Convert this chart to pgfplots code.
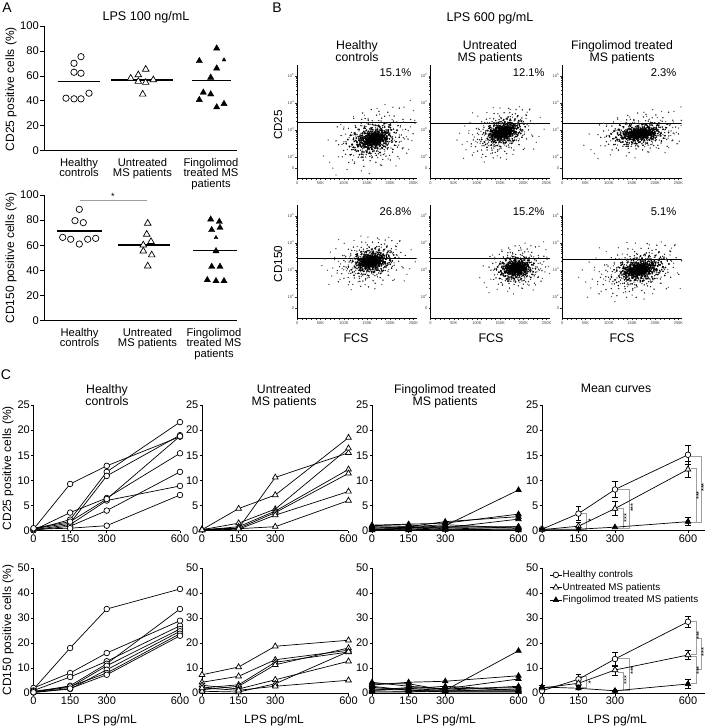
\documentclass[border=0pt]{standalone}
\usepackage{pgfplots}
\pgfplotsset{compat=1.18}
\usepackage{pgfplotstable}
\usepackage{fontspec}
\setmainfont{Liberation Sans}

\pgfplotsset{
  every axis/.append style={/pgf/number format/assume math mode=true},
  base/.style={scale only axis, anchor=south west, axis lines=left,
    axis line style={-, line width=0.8pt}, tick style={black, line width=0.7pt},
    tick align=outside},
  aax/.style={base, width=193pt, xmin=44, xmax=237, ymin=0, ymax=100,
    ytick={0,20,...,100}, xtick=\empty, major tick length=4pt, clip=false,
    yticklabel style={font=\fontsize{11.2}{11}\selectfont, inner sep=1pt}},
  cax/.style={base, xmin=0, xmax=600, width=146.5pt, xtick={0,150,300,600},
    major tick length=2.5pt, clip=false,
    ticklabel style={font=\fontsize{11}{11}\selectfont},
    yticklabel style={inner sep=1pt}, xticklabel style={inner sep=1.5pt}},
  rowA/.style={ymin=0, ymax=25, ytick={0,5,...,25}, height=125.7pt},
  rowB/.style={ymin=0, ymax=50, ytick={0,10,...,50}, height=125pt},
  meanax/.style={xmax=670, width=163pt},
  hc/.style={black, line width=0.7pt, mark=*, mark size=2.8pt, mark options={fill=white, solid}},
  um/.style={black, line width=0.7pt, mark=triangle*, mark size=3.3pt, mark options={fill=white, solid}},
  fm/.style={black, line width=0.7pt, mark=triangle*, mark size=3.1pt, mark options={fill=black, solid}},
  ahc/.style={only marks, mark=*, mark size=3.2pt, mark options={fill=white, draw=black, line width=0.7pt}},
  aum/.style={only marks, mark=triangle*, mark size=3.8pt, mark options={fill=white, draw=black, line width=0.7pt}},
  afm/.style={only marks, mark=triangle*, mark size=3.6pt, mark options={fill=black, draw=black}},
  meanline/.style={black, line width=1.3pt},
  brk/.style={gray!75, line width=0.6pt, forget plot},
  ebar/.style={forget plot, only marks, mark=none, black, error bars/.cd, y dir=both, y explicit,
    error bar style={line width=0.7pt, black}, error mark options={rotate=90, mark size=2.6pt, line width=0.7pt, black}},
  flow/.style={base, xmin=0, xmax=257, ymin=1.2, ymax=5.4, width=119.4pt, height=113.3pt,
    axis line style={-, line width=0.6pt}, tick style={line width=0.4pt, black!80},
    xtick={0,50,...,250}, xticklabels={0,50K,100K,150K,200K,250K}, minor x tick num=4,
    ytick={1.57,2,3,4,5}, yticklabels={0,10\textsuperscript{2},10\textsuperscript{3},10\textsuperscript{4},10\textsuperscript{5}},
    minor ytick={2.301,2.477,2.602,2.699,2.778,2.845,2.903,2.954,3.301,3.477,3.602,3.699,3.778,3.845,3.903,3.954,4.301,4.477,4.602,4.699,4.778,4.845,4.903,4.954},
    major tick length=2pt, minor tick length=1.2pt,
    ticklabel style={font=\fontsize{4}{4}\selectfont, text=black!75, inner sep=1pt}},
  gate/.style={black, line width=0.7pt},
  doth/.style={only marks, mark=*, mark size=0.4pt, black!65, mark options={draw=none}},
  dot/.style={only marks, mark=*, mark size=0.45pt, black!85, mark options={draw=none}},
  dotc/.style={only marks, mark=*, mark size=0.6pt, black, mark options={draw=none}},
}

\pgfplotstableread[row sep=\\]{
dx dy\\
0.12 -0.35\\ -0.84 0.51\\ 1.32 0.22\\ -0.27 -1.08\\ 0.66 0.93\\ -1.45 -0.21\\ 0.05 0.14\\ 0.93 -0.62\\ -0.58 -0.49\\ 1.87 1.04\\
-0.11 0.72\\ 0.41 -0.18\\ -1.02 1.23\\ 0.28 0.39\\ -0.36 0.05\\ 1.08 -1.15\\ -0.73 -0.88\\ 0.57 0.61\\ -1.9 0.33\\ 0.19 -0.71\\
2.31 0.45\\ -0.44 1.62\\ 0.76 -0.03\\ -0.06 -0.27\\ 1.49 0.81\\ -1.21 -0.66\\ 0.33 1.12\\ -0.65 0.24\\ 0.89 0.36\\ -0.17 -1.47\\
0.48 -0.93\\ -1.33 0.79\\ 1.15 1.46\\ -0.52 -0.12\\ 0.02 0.56\\ 2.05 -0.38\\ -0.91 0.02\\ 0.69 -1.31\\ -0.23 0.94\\ 1.61 -0.09\\
-2.24 -0.95\\ 0.37 0.18\\ -0.79 -1.41\\ 1.24 0.58\\ 0.08 -0.54\\ -0.39 0.43\\ 0.97 1.89\\ -1.57 0.61\\ 0.61 -0.37\\ -0.03 1.31\\
1.72 -0.71\\ -0.69 -0.31\\ 0.24 -1.78\\ -1.11 0.37\\ 0.52 0.27\\ -0.31 -0.83\\ 1.39 0.12\\ 0.15 0.87\\ -0.95 1.05\\ 2.58 0.97\\
-0.47 0.31\\ 0.83 0.49\\ -1.68 -0.45\\ 0.44 -0.08\\ -0.14 -0.61\\ 1.03 0.74\\ -0.61 0.68\\ 0.29 -1.21\\ 1.94 -0.56\\ -1.29 -1.12\\
0.71 1.27\\ -0.22 0.22\\ 1.57 -1.02\\ -0.88 -0.14\\ 0.11 0.45\\ -2.02 0.12\\ 0.55 -0.76\\ 1.19 -0.29\\ -0.41 -0.95\\ 0.36 2.21\\
-1.06 -0.29\\ 2.17 0.14\\ -0.19 0.59\\ 0.64 0.08\\ -0.76 1.48\\ 1.44 1.18\\ 0.01 -1.02\\ -1.49 0.89\\ 0.86 -0.14\\ -0.33 -0.18\\
1.28 -0.48\\ -0.56 0.85\\ 0.18 0.29\\ -1.24 -1.73\\ 0.95 0.21\\ -0.08 -0.41\\ 1.66 0.63\\ -0.97 0.47\\ 0.42 -0.56\\ 2.72 -0.21\\
-0.29 0.11\\ 0.74 -0.99\\ -1.81 1.01\\ 0.31 0.66\\ 1.11 -0.15\\ -0.66 -1.25\\ 0.09 1.03\\ 0.58 0.41\\ -1.38 -0.02\\ 1.83 0.31\\
-0.13 -0.84\\ 0.99 1.02\\ -0.49 -0.03\\ 2.41 -0.84\\ 0.21 -0.33\\ -0.86 0.29\\ 1.35 -0.67\\ -0.02 0.37\\ 0.67 -1.55\\ -1.14 0.63\\
2.9 1.6\\ -2.6 -1.9\\ 3.1 -0.4\\ -2.1 2.0\\ 1.2 2.6\\ 0.4 -2.5\\ -1.7 -2.3\\ 2.5 1.9\\ -2.9 0.8\\ 0.9 -2.1\\
3.3 0.9\\ -0.6 2.4\\ 2.2 -1.6\\ -3.2 -0.6\\ 1.6 -2.3\\ 0.2 2.8\\ -1.3 2.5\\ 2.8 -1.1\\ -2.4 -2.6\\ 3.5 0.2\\
1.9 2.4\\ -0.8 -2.7\\ 2.6 0.7\\ -1.9 1.7\\ 0.7 3.0\\ 3.0 -2.0\\ -2.8 -1.3\\ 1.4 -2.9\\ -0.3 -3.1\\ 2.3 2.9\\
0.2 0.1\\ -0.3 0.3\\ 0.5 -0.2\\ -0.1 -0.4\\ 0.35 0.5\\ -0.55 -0.1\\ 0.1 -0.15\\ 0.7 0.15\\ -0.4 0.6\\ 0.25 -0.6\\
-0.2 -0.05\\ 0.45 0.3\\ -0.7 0.2\\ 0.05 0.25\\ 0.6 -0.45\\ -0.15 0.45\\ 0.3 0.05\\ -0.5 -0.35\\ 0.8 0.4\\ 0.0 -0.3\\
0.15 0.65\\ -0.35 -0.2\\ 0.55 0.05\\ -0.05 0.15\\ 0.4 -0.35\\ -0.6 0.4\\ 0.1 0.4\\ 0.65 -0.1\\ -0.25 -0.55\\ 0.3 0.3\\
-0.45 0.05\\ 0.2 -0.25\\ -0.1 0.55\\ 0.75 -0.25\\ -0.3 -0.4\\ 0.5 0.55\\ -0.65 -0.05\\ 0.0 0.0\\ 0.35 -0.1\\ -0.15 0.25\\
}\cloudtab

% #1 cx, #2 cy, #3 sx, #4 sy, #5 tilt, #6 flip
\newcommand{\cloudplot}[6]{%
 \addplot[doth] table[x expr={#1+#6*#3*\thisrow{dx}}, y expr={#2+#4*\thisrow{dy}+#5*#6*\thisrow{dx}}]{\cloudtab};
 \addplot[dot] table[x expr={#1-0.8*#3*\thisrow{dy}}, y expr={#2+0.8*#6*#4*\thisrow{dx}-0.8*#5*\thisrow{dy}}]{\cloudtab};
 \addplot[dot] table[x expr={#1+0.62*#3*\thisrow{dy}}, y expr={#2-0.62*#6*#4*\thisrow{dx}+0.62*#5*\thisrow{dy}}]{\cloudtab};
 \addplot[dotc] table[x expr={#1-0.5*#6*#3*\thisrow{dx}}, y expr={#2+0.5*#4*\thisrow{dy}-0.5*#5*#6*\thisrow{dx}}]{\cloudtab};
 \addplot[dotc] table[x expr={#1-0.4*#6*#3*\thisrow{dx}}, y expr={#2-0.4*#4*\thisrow{dy}-0.4*#5*#6*\thisrow{dx}}]{\cloudtab};
 \addplot[dotc] table[x expr={#1+0.3*#6*#3*\thisrow{dx}}, y expr={#2-0.3*#4*\thisrow{dy}+0.3*#5*#6*\thisrow{dx}}]{\cloudtab};
}

\begin{document}
\begin{tikzpicture}
\path[use as bounding box] (0,0) rectangle (707pt,-728pt);

% ================= Panel A top =================
\begin{axis}[aax, at={(44pt,-150.7pt)}, height=124.7pt]
\addplot[ahc] coordinates {(74,70.1)(81,75.4)(74,62.9)(81,62.1)(66,42.1)(74,41.6)(81,41.6)(89,46.1)};
\addplot[aum] coordinates {(130.7,58.1)(138.3,60.8)(145.7,65.3)(153.3,56.8)(138.3,55.5)(145.7,54.7)(142.7,45.3)};
\addplot[afm] coordinates {(216.7,82.1)(199.3,72)(216.7,66.1)(210.7,58.7)(203.3,46.7)(210.7,45.3)(199.3,40.8)(224,37.6)(216.7,34.9)};
\addplot[afm, mark size=2.2pt] coordinates {(224,72.8)};
\addplot[meanline] coordinates {(58,55.3)(100,55.3)};
\addplot[meanline] coordinates {(111,56.8)(173,56.8)};
\addplot[meanline] coordinates {(192,56.3)(231,56.3)};
\end{axis}

% ================= Panel A bottom =================
\begin{axis}[aax, at={(44pt,-320.7pt)}, height=125.7pt]
\addplot[ahc] coordinates {(79.3,88.6)(75,79.6)(83.3,78)(62.7,66.3)(70.7,64.8)(79.3,61)(87.7,64.8)(95.7,65.5)};
\addplot[aum] coordinates {(147.7,77.5)(146.7,68.7)(151,62.9)(143.3,60.2)(143.3,55.4)(151.7,52.3)(147.7,43.5)};
\addplot[afm] coordinates {(210.7,80.6)(219.3,78.8)(211.7,72.2)(220,74)(216,55.4)(211.7,43)(220,43)(207.3,32.4)(216,31.6)(224,31.6)};
\addplot[afm, mark size=2.2pt] coordinates {(216,66.1)};
\addplot[meanline] coordinates {(57,71.4)(102,71.4)};
\addplot[meanline] coordinates {(118,60.2)(170,60.2)};
\addplot[meanline] coordinates {(193,55.7)(237,55.7)};
\addplot[gray!75, line width=0.6pt] coordinates {(80,96)(147,96)};
\node[font=\fontsize{9}{9}\selectfont] at (axis cs:113,99) {*};
\end{axis}

% ================= Panel B flow plots =================
\begin{axis}[flow, at={(297.3pt,-178.3pt)}]
\cloudplot{165}{2.65}{34}{0.4}{0.12}{1}
\addplot[gate] coordinates {(0,3.26)(257,3.26)};
\node[anchor=east, font=\fontsize{11.2}{11}\selectfont] at (rel axis cs:0.985,0.935) {15.1\%};
\end{axis}
\begin{axis}[flow, at={(430.5pt,-178.3pt)}]
\cloudplot{155}{2.9}{28}{0.33}{0.1}{(-1)}
\addplot[gate] coordinates {(0,3.25)(257,3.25)};
\node[anchor=east, font=\fontsize{11.2}{11}\selectfont] at (rel axis cs:0.985,0.935) {12.1\%};
\end{axis}
\begin{axis}[flow, at={(562.3pt,-178.3pt)}]
\cloudplot{168}{2.85}{38}{0.28}{0.08}{1}
\addplot[gate] coordinates {(0,3.25)(257,3.25)};
\node[anchor=east, font=\fontsize{11.2}{11}\selectfont] at (rel axis cs:0.985,0.935) {2.3\%};
\end{axis}
\begin{axis}[flow, at={(297.3pt,-318.3pt)}]
\cloudplot{158}{3.3}{30}{0.33}{0.06}{(-1)}
\addplot[gate] coordinates {(0,3.43)(257,3.43)};
\node[anchor=east, font=\fontsize{11.2}{11}\selectfont] at (rel axis cs:0.985,0.94) {26.8\%};
\end{axis}
\begin{axis}[flow, at={(430.5pt,-318.3pt)}]
\cloudplot{186}{3.05}{25}{0.3}{0.05}{1}
\addplot[gate] coordinates {(0,3.43)(257,3.43)};
\node[anchor=east, font=\fontsize{11.2}{11}\selectfont] at (rel axis cs:0.985,0.94) {15.2\%};
\end{axis}
\begin{axis}[flow, at={(562.3pt,-318.3pt)}]
\cloudplot{165}{3.0}{37}{0.36}{0.1}{(-1)}
\addplot[gate] coordinates {(0,3.40)(257,3.40)};
\node[anchor=east, font=\fontsize{11.2}{11}\selectfont] at (rel axis cs:0.985,0.94) {5.1\%};
\end{axis}

% ================= Panel C row 1 (CD25) =================
\begin{axis}[cax, rowA, at={(33.5pt,-530.7pt)}]
\addplot[hc] coordinates {(0,0.3)(150,9.3)(300,12.9)(600,18.7)};
\addplot[hc] coordinates {(0,0.2)(150,2.2)(300,11.7)(600,21.6)};
\addplot[hc] coordinates {(0,0.4)(150,1.5)(300,10.9)(600,19.0)};
\addplot[hc] coordinates {(0,0.1)(150,3.6)(300,6.5)(600,15.4)};
\addplot[hc] coordinates {(0,0.2)(150,1.2)(300,6.0)(600,8.9)};
\addplot[hc] coordinates {(0,0.1)(150,0.9)(300,4.0)(600,11.7)};
\addplot[hc] coordinates {(0,0.3)(150,0.5)(300,1.0)(600,7.1)};
\addplot[hc] coordinates {(0,0.5)(150,1.8)(300,6.3)(600,18.8)};
\end{axis}
\begin{axis}[cax, rowA, at={(202pt,-530.7pt)}]
\addplot[um] coordinates {(0,0.2)(150,4.4)(300,7.1)(600,18.5)};
\addplot[um] coordinates {(0,0.1)(150,0.5)(300,10.6)(600,15.5)};
\addplot[um] coordinates {(0,0.2)(150,1.5)(300,4.3)(600,16.4)};
\addplot[um] coordinates {(0,0.1)(150,0.8)(300,3.9)(600,12.2)};
\addplot[um] coordinates {(0,0.3)(150,0.5)(300,3.6)(600,11.4)};
\addplot[um] coordinates {(0,0.1)(150,0.3)(300,3.1)(600,7.8)};
\addplot[um] coordinates {(0,0.2)(150,0.4)(300,0.8)(600,6.0)};
\end{axis}
\begin{axis}[cax, rowA, at={(372pt,-530.7pt)}]
\addplot[fm] coordinates {(0,0.3)(150,0.5)(300,1.0)(600,8.1)};
\addplot[fm] coordinates {(0,1.1)(150,1.3)(300,1.5)(600,3.3)};
\addplot[fm] coordinates {(0,0.7)(150,0.8)(300,1.8)(600,2.8)};
\addplot[fm] coordinates {(0,0.3)(150,0.5)(300,0.6)(600,2.3)};
\addplot[fm] coordinates {(0,1.0)(150,1.2)(300,0.3)(600,0.8)};
\addplot[fm] coordinates {(0,0.2)(150,0.3)(300,0.6)(600,0.5)};
\addplot[fm] coordinates {(0,0.1)(150,0.2)(300,0.3)(600,0.1)};
\addplot[fm] coordinates {(0,0.5)(150,0.8)(300,1.2)(600,0.5)};
\addplot[fm] coordinates {(0,0.2)(150,0.1)(300,0.2)(600,0.3)};
\addplot[fm] coordinates {(0,0.8)(150,0.6)(300,0.8)(600,0.8)};
\end{axis}
\begin{axis}[cax, rowA, meanax, at={(542pt,-530.7pt)}]
\addplot[ebar] coordinates {(150,3.4) +- (0,1.4) (300,8.2) +- (0,1.6) (600,15.1) +- (0,1.9)};
\addplot[ebar] coordinates {(150,0.9) +- (0,0.7) (300,4.4) +- (0,1.4) (600,12.2) +- (0,1.6)};
\addplot[ebar] coordinates {(150,0.3) +- (0,0.3) (600,1.8) +- (0,0.8)};
\addplot[brk] coordinates {(152,3.5)(182,3.5)(182,0.3)(152,0.3)};
\addplot[brk] coordinates {(313,4.5)(334,4.5)(334,0.5)(313,0.5)};
\addplot[brk] coordinates {(313,8.3)(359,8.3)(359,0.5)(334,0.5)};
\addplot[brk] coordinates {(612,12.5)(633,12.5)(633,1.7)(612,1.7)};
\addplot[brk] coordinates {(612,14.8)(656,14.8)(656,1.7)(633,1.7)};
\node[font=\fontsize{8}{8}\selectfont] at (axis cs:196,1.7) {*};
\node[rotate=90, font=\fontsize{7.5}{8}\selectfont] at (axis cs:348,2.5) {***};
\node[rotate=90, font=\fontsize{7.5}{8}\selectfont] at (axis cs:374,4.6) {***};
\node[rotate=90, font=\fontsize{7.5}{8}\selectfont] at (axis cs:644,7.0) {***};
\node[rotate=90, font=\fontsize{7.5}{8}\selectfont] at (axis cs:665,8.6) {***};
\addplot[hc] coordinates {(0,0.3)(150,3.4)(300,8.2)(600,15.1)};
\addplot[um] coordinates {(0,0.2)(150,0.9)(300,4.4)(600,12.2)};
\addplot[fm] coordinates {(0,0.3)(150,0.3)(300,0.7)(600,1.8)};
\end{axis}

% ================= Panel C row 2 (CD150) =================
\begin{axis}[cax, rowB, at={(33.5pt,-693pt)}]
\addplot[hc] coordinates {(0,1.5)(150,18)(300,33.6)(600,41.6)};
\addplot[hc] coordinates {(0,2.0)(150,8.0)(300,16)(600,28.9)};
\addplot[hc] coordinates {(0,1.0)(150,6.4)(300,12.7)(600,26.9)};
\addplot[hc] coordinates {(0,0.3)(150,2.9)(300,11.7)(600,33.6)};
\addplot[hc] coordinates {(0,0.5)(150,2.3)(300,10.9)(600,25.6)};
\addplot[hc] coordinates {(0,0.2)(150,1.6)(300,9.3)(600,24.7)};
\addplot[hc] coordinates {(0,0.7)(150,2.6)(300,8.0)(600,23.7)};
\addplot[hc] coordinates {(0,0.3)(150,1.8)(300,7.3)(600,22.9)};
\end{axis}
\begin{axis}[cax, rowB, at={(202pt,-693pt)}]
\addplot[um] coordinates {(0,7.3)(150,10.4)(300,18.7)(600,21.1)};
\addplot[um] coordinates {(0,4.3)(150,6.7)(300,13.3)(600,17.1)};
\addplot[um] coordinates {(0,2.0)(150,3.3)(300,12.3)(600,16.4)};
\addplot[um] coordinates {(0,1.3)(150,2.7)(300,11.3)(600,18.0)};
\addplot[um] coordinates {(0,3.1)(150,1.6)(300,5.3)(600,12.7)};
\addplot[um] coordinates {(0,0.7)(150,0.4)(300,3.7)(600,16.6)};
\addplot[um] coordinates {(0,2.0)(150,1.1)(300,2.7)(600,5.1)};
\end{axis}
\begin{axis}[cax, rowB, at={(372pt,-693pt)}]
\addplot[fm] coordinates {(0,1.1)(150,1.7)(300,1.1)(600,16.9)};
\addplot[fm] coordinates {(0,3.2)(150,4.3)(300,4.7)(600,6.9)};
\addplot[fm] coordinates {(0,4.3)(150,2.7)(300,1.7)(600,5.6)};
\addplot[fm] coordinates {(0,3.7)(150,3.7)(300,1.1)(600,2.7)};
\addplot[fm] coordinates {(0,2.3)(150,1.1)(300,0.7)(600,1.7)};
\addplot[fm] coordinates {(0,1.6)(150,1.7)(300,2.7)(600,1.1)};
\addplot[fm] coordinates {(0,0.4)(150,0.4)(300,0.7)(600,0.7)};
\addplot[fm] coordinates {(0,2.7)(150,1.1)(300,1.1)(600,1.1)};
\addplot[fm] coordinates {(0,0.8)(150,0.7)(300,0.4)(600,0.4)};
\addplot[fm] coordinates {(0,1.1)(150,2.2)(300,1.7)(600,2.2)};
\end{axis}
\begin{axis}[cax, rowB, meanax, at={(542pt,-693pt)},
  legend style={at={(0.045,0.985)}, anchor=north west, draw=none, fill=none,
    font=\fontsize{9.8}{10}\selectfont, row sep=3pt, inner sep=0pt,
    nodes={inner sep=0.5pt}, /tikz/every even column/.append style={column sep=2pt}},
  legend cell align=left,
  legend image code/.code={\draw[mark repeat=2,mark phase=2,#1] plot coordinates {(0pt,0pt) (6pt,0pt) (12pt,0pt)};}]
\addplot[ebar] coordinates {(0,0.9) +- (0,0.3) (150,5.5) +- (0,2.1) (300,13.6) +- (0,2.8) (600,28.5) +- (0,2.2)};
\addplot[ebar] coordinates {(0,2.0) +- (0,0.4) (150,3.9) +- (0,1.0) (300,9.2) +- (0,2.0) (600,15.2) +- (0,1.9)};
\addplot[ebar] coordinates {(0,2.4) +- (0,0.5) (150,1.9) +- (0,0.6) (300,0.9) +- (0,0.3) (600,3.6) +- (0,1.7)};
\addplot[brk] coordinates {(152,6.5)(182,6.5)(182,2.1)(152,2.1)};
\addplot[brk] coordinates {(313,8.3)(334,8.3)(334,1.2)(313,1.2)};
\addplot[brk] coordinates {(313,13.9)(359,13.9)(359,1.2)(334,1.2)};
\addplot[brk] coordinates {(614,28.8)(636,28.8)(636,15.5)(614,15.5)};
\addplot[brk] coordinates {(614,14.8)(636,14.8)(636,3.9)(614,3.9)};
\addplot[brk] coordinates {(636,22)(656,22)(656,9.5)(636,9.5)};
\node[font=\fontsize{8}{8}\selectfont] at (axis cs:196,3.8) {*};
\node[rotate=90, font=\fontsize{7.5}{8}\selectfont] at (axis cs:348,5.3) {***};
\node[rotate=90, font=\fontsize{7.5}{8}\selectfont] at (axis cs:374,9.0) {***};
\node[rotate=90, font=\fontsize{7.5}{8}\selectfont] at (axis cs:646,23) {***};
\node[rotate=90, font=\fontsize{7.5}{8}\selectfont] at (axis cs:646,9) {***};
\node[rotate=90, font=\fontsize{7.5}{8}\selectfont] at (axis cs:665,16.5) {***};
\addplot[hc] coordinates {(0,0.9)(150,5.5)(300,13.6)(600,28.5)};
\addplot[um] coordinates {(0,2.0)(150,3.9)(300,9.2)(600,15.2)};
\addplot[fm] coordinates {(0,2.4)(150,1.9)(300,0.9)(600,3.6)};
\legend{Healthy controls, Untreated MS patients, Fingolimod treated MS patients}
\end{axis}

% ================= Text =================
\begin{scope}[x=1pt,y=-1pt]
\node[font=\fontsize{14}{14}\selectfont] at (7,8) {A};
\node[font=\fontsize{14}{14}\selectfont] at (277,8) {B};
\node[font=\fontsize{14}{14}\selectfont] at (6,375) {C};
\node[font=\fontsize{12.6}{13}\selectfont] at (146,17.5) {LPS 100 ng/mL};
\node[font=\fontsize{12.6}{13}\selectfont] at (490,18) {LPS 600 pg/mL};
\node[rotate=90, font=\fontsize{12}{12}\selectfont] at (11,89) {CD25 positive cells (\%)};
\node[rotate=90, font=\fontsize{12}{12}\selectfont] at (11,258) {CD150 positive cells (\%)};
\begin{scope}[every node/.style={align=center, anchor=north, inner sep=0pt, font=\fontsize{11.2}{10.5}\selectfont}]
\node at (79,158) {Healthy\\controls};
\node at (142.5,158) {Untreated\\MS patients};
\node at (211,158) {Fingolimod\\treated MS\\patients};
\node at (79.5,328) {Healthy\\controls};
\node at (147.5,328) {Untreated\\MS patients};
\node at (214,328) {Fingolimod\\treated MS\\patients};
\end{scope}
\begin{scope}[every node/.style={align=center, anchor=north, inner sep=0pt, font=\fontsize{12.3}{12.3}\selectfont}]
\node at (357,40) {Healthy\\controls};
\node at (490,40) {Untreated\\MS patients};
\node at (622,40) {Fingolimod treated\\MS patients};
\node at (107,384) {Healthy\\controls};
\node at (284,384) {Untreated\\MS patients};
\node at (445,384) {Fingolimod treated\\MS patients};
\node at (616,384) {Mean curves};
\end{scope}
\node[rotate=90, font=\fontsize{11.7}{12}\selectfont] at (278,125) {CD25};
\node[rotate=90, font=\fontsize{11.7}{12}\selectfont] at (278,264) {CD150};
\node[font=\fontsize{12.5}{12.5}\selectfont] at (356,338) {FCS};
\node[font=\fontsize{12.5}{12.5}\selectfont] at (491,338) {FCS};
\node[font=\fontsize{12.5}{12.5}\selectfont] at (622,338) {FCS};
\node[rotate=90, font=\fontsize{12}{12}\selectfont] at (8,468) {CD25 positive cells (\%)};
\node[rotate=90, font=\fontsize{12}{12}\selectfont] at (8,630) {CD150 positive cells (\%)};
\node[font=\fontsize{12.1}{12}\selectfont] at (107,720) {LPS pg/mL};
\node[font=\fontsize{12.1}{12}\selectfont] at (274,720) {LPS pg/mL};
\node[font=\fontsize{12.1}{12}\selectfont] at (446,720) {LPS pg/mL};
\node[font=\fontsize{12.1}{12}\selectfont] at (617,720) {LPS pg/mL};
\end{scope}
\end{tikzpicture}
\end{document}
